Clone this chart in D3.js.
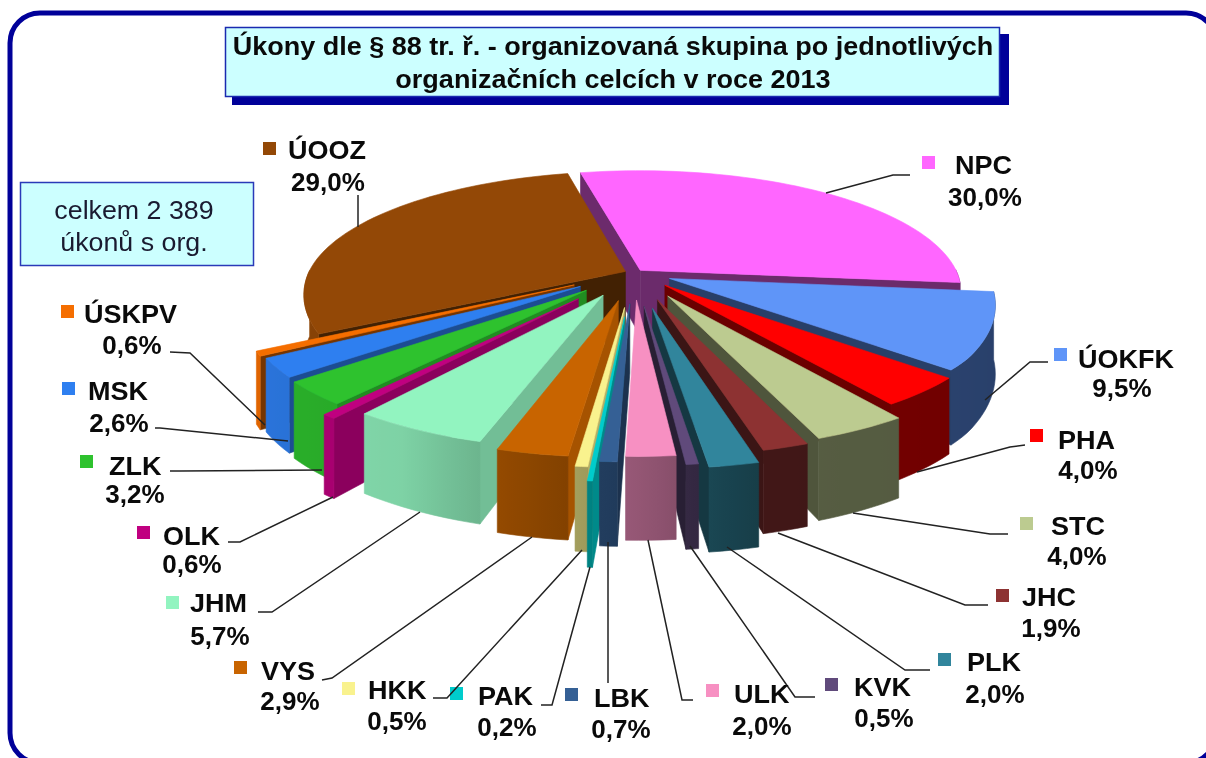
<!DOCTYPE html>
<html lang="cs"><head><meta charset="utf-8">
<script src="https://cdn.jsdelivr.net/npm/d3@7/dist/d3.min.js"></script>
<style>html,body{margin:0;padding:0;background:#fff;overflow:hidden}svg{display:block;filter:blur(0.35px)}
text{font-family:"Liberation Sans",Arial,sans-serif}</style></head><body>
<svg id="c" width="1206" height="758"></svg>
<script>
// ---- data, clockwise from the top of the pie
const categories=["NPC","ÚOKFK","PHA","STC","JHC","PLK","KVK","ULK","LBK","PAK","HKK","VYS","JHM","OLK","ZLK","MSK","ÚSKPV","ÚOOZ"];
const shares=[30.0,9.5,4.0,4.0,1.9,2.0,0.5,2.0,0.7,0.2,0.5,2.9,5.7,0.6,3.2,2.6,0.6,29.0];
const titleLines=["Úkony dle § 88 tr. ř. - organizovaná skupina po jednotlivých","organizačních celcích v roce 2013"];
const noteLines=["celkem 2 389","úkonů s org."];
// ---- styles
const topColors=["#FF66FF","#5F95F8","#FF0000","#BCCB90","#8D3232","#31859C","#604A7B","#F790C2","#356095","#00CCCC","#F9F28E","#C86400","#92F4C0","#C00080","#2EC22E","#2E7FF0","#F56E00","#934806"];
const explode=[.03,.12,.14,.215,.23,.29,.27,.22,.25,.35,.28,.23,.205,.27,.205,.20,.21,.03];
// ---- label layout: key square x,y; name x,baseline; value centre,baseline; leader
const labelLayout=[
 {k:[922,156],n:[955,174],v:[985,206],l:[[826,193],[893,175],[910,175]]},
 {k:[1054,348],n:[1078,368],v:[1122,397],l:[[985,400],[1030,362],[1048,362]]},
 {k:[1030,429],n:[1058,449],v:[1088,479],l:[[917,472],[1010,447],[1025,445]]},
 {k:[1020,517],n:[1051,535],v:[1077,565],l:[[853,513],[990,534],[1008,534]]},
 {k:[996,589],n:[1022,606],v:[1051,637],l:[[778,533],[965,605],[988,605]]},
 {k:[938,653],n:[967,671],v:[995,703],l:[[727,547],[905,670],[930,670]]},
 {k:[825,678],n:[854,696],v:[884,727],l:[[690,546],[795,697],[815,697]]},
 {k:[706,684],n:[734,703],v:[762,735],l:[[648,540],[682,700],[693,700]]},
 {k:[565,688],n:[594,707],v:[621,738],l:[[608,542],[608,683]]},
 {k:[450,687],n:[478,705],v:[507,736],l:[[590,567],[552,705],[541,705]]},
 {k:[342,682],n:[368,699],v:[397,730],l:[[582,550],[447,698],[433,698]]},
 {k:[234,661],n:[261,680],v:[290,710],l:[[532,537],[332,678],[322,680]]},
 {k:[166,596],n:[190,612],v:[220,645],l:[[420,512],[272,612],[258,612]]},
 {k:[137,526],n:[163,545],v:[192,573],l:[[333,497],[240,542],[228,542]]},
 {k:[80,455],n:[109,475],v:[135,503],l:[[322,470],[180,471],[170,471]]},
 {k:[62,382],n:[88,400],v:[119,432],l:[[288,441],[160,428],[155,428]]},
 {k:[61,305],n:[84,323],v:[132,354],l:[[265,425],[190,353],[170,352]]},
 {k:[263,142],n:[288,159],v:[328,191],l:[[358,227],[358,195]]}
];

const svg=d3.select("#c");
const defs=svg.append("defs");
const NAVY="#000099";
const stretch=(sel,f)=>sel.each(function(){this.setAttribute("textLength",this.getComputedTextLength()*f);this.setAttribute("lengthAdjust","spacingAndGlyphs");});
// frame
svg.append("rect").attr("x",10).attr("y",13).attr("width",1206).attr("height",750).attr("rx",30)
 .attr("fill","#fff").attr("stroke",NAVY).attr("stroke-width",5);
// title box
svg.append("rect").attr("x",232).attr("y",34).attr("width",777).attr("height",71).attr("fill",NAVY);
svg.append("rect").attr("x",225.5).attr("y",27.5).attr("width",774).attr("height",69).attr("fill","#CCFFFF").attr("stroke","#1a2ab0").attr("stroke-width",1.5);
svg.selectAll(".t").data(titleLines).enter().append("text").attr("x",613).attr("y",(d,i)=>55+i*33)
 .attr("text-anchor","middle").attr("font-size",25).attr("font-weight","bold").attr("fill","#0a0a0a").text(d=>d).call(stretch,1.08);
// note box
svg.append("rect").attr("x",20.5).attr("y",182.5).attr("width",233).attr("height",83).attr("fill","#CCFFFF").attr("stroke","#2a3ab8").attr("stroke-width",1.5);
svg.selectAll(".n").data(noteLines).enter().append("text").attr("x",134).attr("y",(d,i)=>219+i*32)
 .attr("text-anchor","middle").attr("font-size",26).attr("fill","#1a1a30").text(d=>d).call(stretch,1.03);

// ---- pie geometry
const deg=Math.PI/180, theta0=-12.6*deg;
const pie=d3.pie().sort(null).startAngle(theta0).endAngle(theta0+2*Math.PI);
const arcs=pie(shares);
const cx=634,cy=273,R=317,S=118,D=5.7,H=66;
const project=(X,Y,z)=>{const k=D/(D+Y);return [cx+R*X*k,cy-S*Y*k+z*k];};
const rimDrop=d3.scaleLinear().domain([-1.25,-1,-.6,-.3,0]).range([0,2,6,3,0]).clamp(true);
const line=d3.line();
const norm=t=>((t/deg)%360+360)%360;
const wallShade=d3.scaleLinear().domain([90,165,180,195,210,270]).range([.42,.46,.6,.72,.86,.96]).clamp(true);
const cutShade=d3.scaleLinear().domain([0,180,187,197,220,232,243,360]).range([.42,.42,.85,.78,.72,.6,.45,.42]).clamp(true);
const shade=(c,f)=>{const r=d3.rgb(c);return d3.rgb(r.r*f,r.g*f,r.b*f).formatHex();};

const slices=arcs.map((a,i)=>{
  const mid=(a.startAngle+a.endAngle)/2,e=explode[i];
  const ox=e*Math.sin(mid),oy=e*Math.cos(mid);
  const pt=(t,z)=>{const Y=oy+Math.cos(t),p=project(ox+Math.sin(t),Y,z);return [p[0],p[1]+rimDrop(Y)];};
  const apex=z=>project(ox,oy,z);
  return {i,a,mid,pt,apex,depth:Math.cos(mid)};
}).sort((p,q)=>q.depth-p.depth);

const gPie=svg.append("g");
slices.forEach(s=>{
  const col=topColors[s.i],g=gPie.append("g");
  const face=(pts,fill)=>g.append("path").attr("d",line(pts)+"Z").attr("fill",fill).attr("stroke",fill).attr("stroke-width",.6).attr("stroke-linejoin","round");
  const cut=t=>face([s.apex(0),s.pt(t,0),s.pt(t,H),s.apex(H)],shade(col,cutShade(norm(t))));
  if(Math.sin(s.a.startAngle)<0) cut(s.a.startAngle);
  if(Math.sin(s.a.endAngle)>0) cut(s.a.endAngle);
  const n=Math.max(2,Math.ceil((s.a.endAngle-s.a.startAngle)/(2*deg)));
  const ts=d3.range(n+1).map(j=>s.a.startAngle+(s.a.endAngle-s.a.startAngle)*j/n);
  // outer wall, shaded along its length
  const vis=ts.filter(t=>Math.cos(t)<0.02);
  if(vis.length>1){
    const x0=s.pt(vis[0],0)[0],x1=s.pt(vis[vis.length-1],0)[0];
    const id="wall"+s.i;
    const gr=defs.append("linearGradient").attr("id",id).attr("gradientUnits","userSpaceOnUse")
      .attr("x1",x0).attr("x2",x1).attr("y1",0).attr("y2",0);
    vis.forEach(t=>gr.append("stop").attr("offset",(s.pt(t,0)[0]-x0)/(x1-x0)).attr("stop-color",shade(col,wallShade(norm(t)))));
    face([...vis.map(t=>s.pt(t,0)),...vis.slice().reverse().map(t=>s.pt(t,H))],`url(#${id})`);
  }
  face([s.apex(0),...ts.map(t=>s.pt(t,0))],col);
});

// ---- labels
const fmt=d3.formatLocale({decimal:",",thousands:" ",grouping:[3],currency:["","%"]}).format(".1f");
const gL=svg.append("g");
labelLayout.forEach((L,i)=>{
  gL.append("path").attr("d",line(L.l)).attr("fill","none").attr("stroke","#222").attr("stroke-width",1.5);
  gL.append("rect").attr("x",L.k[0]).attr("y",L.k[1]).attr("width",13).attr("height",13).attr("fill",topColors[i]);
  gL.append("text").attr("x",L.n[0]).attr("y",L.n[1]).attr("font-size",25).attr("font-weight","bold").attr("fill","#0a0a0a").text(categories[i]).call(stretch,1.08);
  gL.append("text").attr("x",L.v[0]).attr("y",L.v[1]).attr("text-anchor","middle").attr("font-size",25).attr("font-weight","bold").attr("fill","#0a0a0a").text(fmt(shares[i])+"%").call(stretch,1.04);
});
</script></body></html>
